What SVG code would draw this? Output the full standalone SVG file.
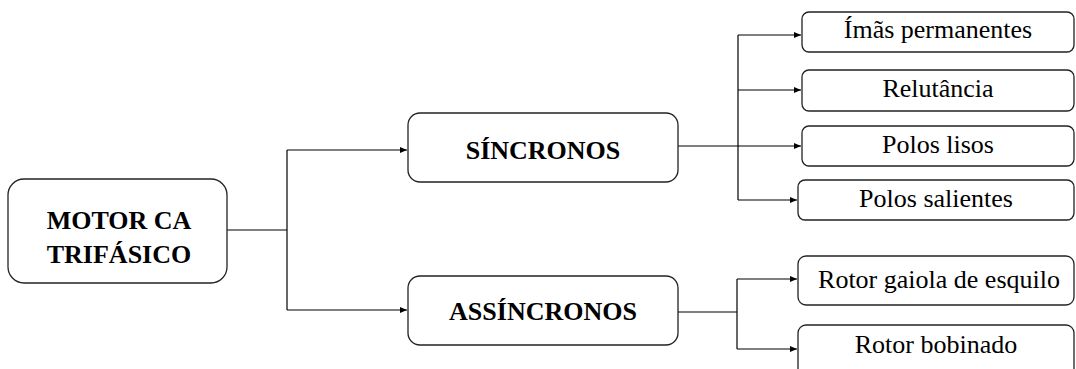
<svg xmlns="http://www.w3.org/2000/svg" width="1076" height="369" viewBox="0 0 1076 369">
<style>
.box{fill:#fff;stroke:#222;stroke-width:1.3}
.b{font-family:"Liberation Serif","Times New Roman",serif;font-weight:bold;font-size:26px;fill:#000;text-anchor:middle}
.r{font-family:"Liberation Serif","Times New Roman",serif;font-size:26px;fill:#000;text-anchor:middle}
.c{fill:none;stroke:#000;stroke-width:1.2}
</style>
<defs>
<marker id="ah" markerWidth="8" markerHeight="6" refX="7" refY="3" orient="auto" markerUnits="userSpaceOnUse">
<path d="M0,0 L7,3 L0,6 Z" fill="#000"/>
</marker>
</defs>
<g id="connectors">
<path class="c" d="M227,230 H287"/>
<path class="c" d="M287,150 V310"/>
<path class="c" d="M287,150 H407" marker-end="url(#ah)"/>
<path class="c" d="M287,310 H407" marker-end="url(#ah)"/>
<path class="c" d="M678,146 H801" marker-end="url(#ah)"/>
<path class="c" d="M738,35 V200"/>
<path class="c" d="M738,35 H801" marker-end="url(#ah)"/>
<path class="c" d="M738,90 H801" marker-end="url(#ah)"/>
<path class="c" d="M738,200 H797" marker-end="url(#ah)"/>
<path class="c" d="M678,312 H737"/>
<path class="c" d="M737,279 V349"/>
<path class="c" d="M737,279 H797" marker-end="url(#ah)"/>
<path class="c" d="M737,349 H797" marker-end="url(#ah)"/>
</g>
<g id="motor">
<rect class="box" x="8" y="179" width="219" height="104" rx="16"/>
<text class="b" x="119" y="229">MOTOR CA</text>
<text class="b" x="119" y="263">TRIFÁSICO</text>
</g>
<g id="sincronos">
<rect class="box" x="408" y="113" width="270" height="69" rx="12"/>
<text class="b" x="543" y="159">SÍNCRONOS</text>
</g>
<g id="assincronos">
<rect class="box" x="408" y="276" width="270" height="69" rx="12"/>
<text class="b" x="543" y="320">ASSÍNCRONOS</text>
</g>
<g id="imas">
<rect class="box" x="802" y="12" width="272" height="40" rx="7"/>
<text class="r" x="938" y="38">Ímãs permanentes</text>
</g>
<g id="relutancia">
<rect class="box" x="802" y="70" width="272" height="41" rx="7"/>
<text class="r" x="938" y="97">Relutância</text>
</g>
<g id="lisos">
<rect class="box" x="802" y="126" width="272" height="40" rx="7"/>
<text class="r" x="938" y="153">Polos lisos</text>
</g>
<g id="salientes">
<rect class="box" x="798" y="180" width="276" height="40" rx="7"/>
<text class="r" x="936" y="207">Polos salientes</text>
</g>
<g id="gaiola">
<rect class="box" x="798" y="256" width="276" height="49" rx="8"/>
<text class="r" x="939" y="288">Rotor gaiola de esquilo</text>
</g>
<g id="bobinado">
<rect class="box" x="798" y="325" width="276" height="52" rx="8"/>
<text class="r" x="936" y="353">Rotor bobinado</text>
</g>
</svg>
